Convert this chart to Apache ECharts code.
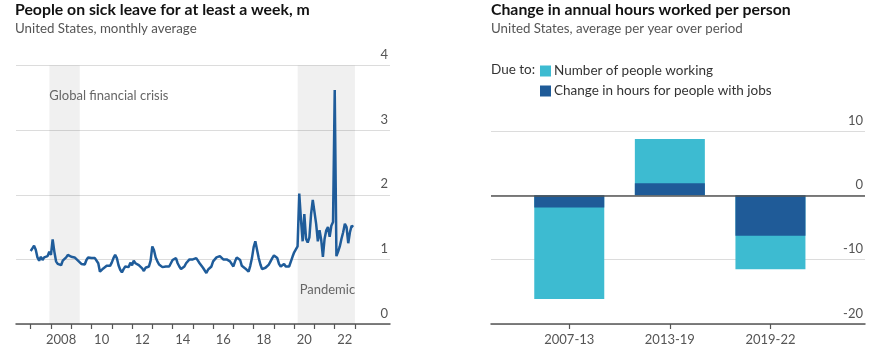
<!DOCTYPE html>
<html><head><meta charset="utf-8">
<script src="https://cdn.jsdelivr.net/npm/echarts@6/dist/echarts.min.js"></script>
<style>html,body{margin:0;padding:0;background:#fff}#c{width:879px;height:364px}</style>
</head><body><div id="c"></div>
<script>
// ---- Left chart data: people on sick leave (m), monthly from Jan 2007 ----
const startYear = 2007;
const sickLeave = [
 1.13,1.17,1.21,1.15,1.03,0.98,1.04,0.99,1.03,1.02,1.05,1.12,
 1.07,1.31,1.12,0.97,0.93,0.90,0.91,0.98,1.00,1.03,1.07,1.09,
 1.04,1.07,1.03,1.02,0.98,0.96,0.93,0.91,0.92,0.99,1.03,1.04,
 1.02,1.03,1.02,1.00,0.94,0.81,0.84,0.86,0.89,0.90,0.90,0.90,
 0.95,1.02,1.07,1.02,0.91,0.84,0.80,0.85,0.89,0.91,0.88,0.95,
 0.91,0.98,0.94,0.91,0.91,0.89,0.86,0.82,0.87,0.89,0.89,0.98,
 1.20,1.14,1.03,0.97,0.92,0.90,0.88,0.85,0.89,0.87,0.89,0.91,
 0.99,1.00,1.02,0.94,0.89,0.85,0.86,0.89,0.94,0.97,1.00,1.03,
 1.00,0.99,1.02,0.98,0.94,0.91,0.87,0.84,0.79,0.84,0.81,0.89,
 0.97,1.00,1.03,1.03,1.05,1.02,1.00,0.99,1.00,0.99,0.97,0.95,
 0.89,0.97,1.03,1.03,0.99,0.90,0.89,0.86,0.85,0.81,0.90,1.02,
 1.19,1.28,1.15,1.02,0.92,0.85,0.82,0.87,0.89,0.92,0.97,1.02,
 1.06,1.09,1.02,0.93,0.89,0.90,0.93,0.89,0.87,0.89,0.86,1.04,
 1.11,1.12,1.20,2.02,1.62,1.28,1.70,1.32,1.26,1.34,1.70,1.92,
 1.95,1.55,1.28,1.45,1.30,1.04,1.32,1.45,1.50,1.35,1.52,1.58,
 3.62,1.05,1.12,1.20,1.32,1.42,1.55,1.50,1.25,1.42,1.52,1.50
];
const yearTicks = [2007,2008,2009,2010,2011,2012,2013,2014,2015,2016,2017,2018,2019,2020,2021,2022,2023];
const yearLabelYears = [2008,2010,2012,2014,2016,2018,2020,2022];
const yearLabels = ['2008','10','12','14','16','18','20','22'];
const gfcPeriod = [2007.92, 2009.42];
const pandemicPeriod = [2020.17, 2023.0];

// ---- Right chart data ----
const periods = ['2007-13','2013-19','2019-22'];
const peopleWorking = [-14.2, 6.9, -5.2];
const hoursWithJobs = [-1.9, 1.86, -6.3];

const FONT = 'Lato';
const TEAL = '#3dbbd1';
const NAVY = '#1f5b98';
const LINE = '#1f5c9a';

const lineData = sickLeave.map((v, i) => [startYear + i / 12, v]);
// stacked totals: teal segment sits beyond the navy segment
const totals = peopleWorking.map((v, i) => v + hoursWithJobs[i]);

const chart = echarts.init(document.getElementById('c'), null, {renderer: 'canvas'});
chart.setOption({
  animation: false,
  textStyle: {fontFamily: FONT},
  title: [
    {text: 'People on sick leave for at least a week, m', subtext: 'United States, monthly average',
     left: 15, top: 2, itemGap: 4, padding: 0,
     textStyle: {fontFamily: FONT, fontSize: 15.8, fontWeight: 'bold', color: '#121212'},
     subtextStyle: {fontFamily: FONT, fontSize: 13.3, color: '#555'}},
    {text: 'Change in annual hours worked per person', subtext: 'United States, average per year over period',
     left: 491, top: 2, itemGap: 4, padding: 0,
     textStyle: {fontFamily: FONT, fontSize: 15.8, fontWeight: 'bold', color: '#121212'},
     subtextStyle: {fontFamily: FONT, fontSize: 13.3, color: '#555'}},
    {text: 'Due to:', left: 491, top: 63, padding: 0,
     textStyle: {fontFamily: FONT, fontSize: 13.5, fontWeight: 'normal', color: '#333'}}
  ],
  legend: {
    data: ['Number of people working', 'Change in hours for people with jobs'],
    orient: 'vertical', left: 540, top: 64, padding: 0, itemWidth: 11, itemHeight: 11, itemGap: 6,
    icon: 'rect', selectedMode: false,
    textStyle: {fontFamily: FONT, fontSize: 13.5, color: '#333', padding: [0, 0, 0, -2]}
  },
  grid: [
    {left: 16, right: 489, top: 65.5, bottom: 40},
    {left: 491, right: 14, top: 131, bottom: 40}
  ],
  xAxis: [
    {gridIndex: 0, type: 'value', min: 2006.275, max: 2024.727,
     axisLine: {show: true, onZero: false, lineStyle: {color: '#555', width: 1.5}},
     axisTick: {show: true, customValues: yearTicks, length: 5, lineStyle: {color: '#555', width: 1.2}},
     axisLabel: {customValues: yearLabelYears.map(y => y + 0.5), margin: 9,
       formatter: v => yearLabels[yearLabelYears.indexOf(Math.round(v - 0.5))],
       color: '#555', fontSize: 13, fontFamily: FONT},
     splitLine: {show: false}},
    {gridIndex: 1, type: 'value', min: 0.222, max: 3.94,
     axisLine: {show: true, onZero: false, lineStyle: {color: '#555', width: 1.5}},
     axisTick: {show: true, customValues: [1, 2, 3], length: 5, lineStyle: {color: '#555', width: 1.2}},
     axisLabel: {customValues: [1, 2, 3], margin: 9, formatter: v => periods[Math.round(v) - 1],
       color: '#555', fontSize: 13, fontFamily: FONT},
     splitLine: {show: false}}
  ],
  yAxis: [
    {gridIndex: 0, type: 'value', min: 0, max: 4, interval: 1, position: 'right',
     axisLine: {show: false}, axisTick: {show: false},
     axisLabel: {inside: true, margin: 2, verticalAlign: 'bottom', padding: [0, 0, 4, 0],
       color: '#555', fontSize: 13, fontFamily: FONT},
     splitLine: {show: true, lineStyle: {color: '#dcdcdc', width: 1}}},
    {gridIndex: 1, type: 'value', min: -20, max: 10, interval: 10, position: 'right',
     axisLine: {show: false}, axisTick: {show: false},
     axisLabel: {inside: true, margin: 2, verticalAlign: 'bottom', padding: [0, 0, 4, 0],
       color: '#555', fontSize: 13, fontFamily: FONT},
     splitLine: {show: true, lineStyle: {color: '#dcdcdc', width: 1}}}
  ],
  series: [
    {type: 'line', xAxisIndex: 0, yAxisIndex: 0, data: lineData, showSymbol: false,
     lineStyle: {color: LINE, width: 2.5}, z: 3,
     markArea: {silent: true, itemStyle: {color: 'rgba(0,0,0,0.06)'},
       label: {fontFamily: FONT, fontSize: 13, color: '#666'},
       data: [
         [{xAxis: gfcPeriod[0], name: 'Global financial crisis', label: {position: [0, 24]}}, {xAxis: gfcPeriod[1]}],
         [{xAxis: pandemicPeriod[0], name: 'Pandemic', label: {position: [2, 218]}}, {xAxis: pandemicPeriod[1]}]
       ]}},
    {name: 'Number of people working', type: 'bar', xAxisIndex: 1, yAxisIndex: 1,
     barWidth: 70, barGap: '-100%', itemStyle: {color: TEAL}, z: 2,
     data: totals.map((v, i) => [i + 1, v]),
     markLine: {silent: true, symbol: ['none', 'none'], label: {show: false}, z: 5,
       lineStyle: {color: '#555', width: 1.5, type: 'solid'}, data: [{yAxis: 0}]}},
    {name: 'Change in hours for people with jobs', type: 'bar', xAxisIndex: 1, yAxisIndex: 1,
     barWidth: 70, barGap: '-100%', itemStyle: {color: NAVY}, z: 3,
     data: hoursWithJobs.map((v, i) => [i + 1, v])}
  ]
});
</script></body></html>
